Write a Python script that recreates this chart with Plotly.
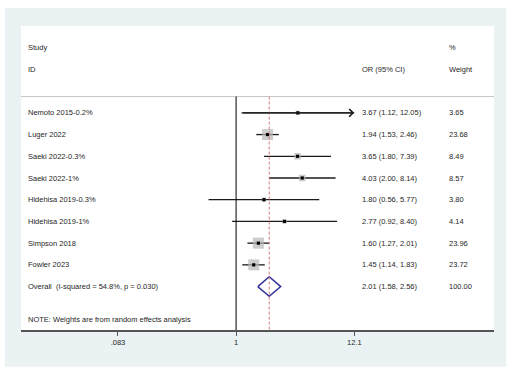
import math
import plotly.graph_objects as go

# ---- data ----
studies = ["Nemoto 2015-0.2%", "Luger 2022", "Saeki 2022-0.3%", "Saeki 2022-1%",
           "Hidehisa 2019-0.3%", "Hidehisa 2019-1%", "Simpson 2018", "Fowler 2023"]
odds = [3.67, 1.94, 3.65, 4.03, 1.80, 2.77, 1.60, 1.45]
ci_low = [1.12, 1.53, 1.80, 2.00, 0.56, 0.92, 1.27, 1.14]
ci_high = [12.05, 2.46, 7.39, 8.14, 5.77, 8.40, 2.01, 1.83]
weights = [3.65, 23.68, 8.49, 8.57, 3.80, 4.14, 23.96, 23.72]
arrow_right = [True, False, False, False, False, False, False, False]

overall_label = "Overall  (I-squared = 54.8%, p = 0.030)"
overall_or = 2.01
overall_low = 1.58
overall_high = 2.56
overall_weight = 100.00

tick_vals = [0.083, 1, 12.1]
tick_text = [".083", "1", "12.1"]
note = "NOTE: Weights are from random effects analysis"

# ---- layout constants ----
FONT = "Liberation Sans, Arial, sans-serif"
FS = 7.5
TXT = "#262626"
rows = list(range(1, len(studies) + 1))
overall_row = len(studies) + 1
sep_row = 0.25
note_row = overall_row + 1.5
y_bottom = overall_row + 2
y_top = -3

X_STUDY, X_OR, X_W = 0.0112, 0.7174, 0.9012

fig = go.Figure()

# CI lines
xs, ys = [], []
for r, lo, hi in zip(rows, ci_low, ci_high):
    xs += [lo, hi, None]
    ys += [r, r, None]
fig.add_trace(go.Scatter(x=xs, y=ys, mode="lines",
                         line=dict(color="#1a1a1a", width=1.3),
                         hoverinfo="skip", showlegend=False))

# weight boxes
fig.add_trace(go.Scatter(x=odds, y=rows, mode="markers",
                         marker=dict(symbol="square", color="#b8b8b8",
                                     size=[2.25 * math.sqrt(w) for w in weights],
                                     line=dict(width=0)),
                         hoverinfo="skip", showlegend=False))
# point estimates
fig.add_trace(go.Scatter(x=odds, y=rows, mode="markers",
                         marker=dict(symbol="square", color="#000000", size=3.2),
                         hoverinfo="skip", showlegend=False))

# overall diamond
h = 0.45
fig.add_trace(go.Scatter(
    x=[overall_low, overall_or, overall_high, overall_or, overall_low],
    y=[overall_row, overall_row - h, overall_row, overall_row + h, overall_row],
    mode="lines", line=dict(color="#33339a", width=1.5),
    hoverinfo="skip", showlegend=False))

shapes = [
    # outer light panel
    dict(type="rect", xref="paper", yref="paper", x0=-0.0338, x1=1.0258,
         y0=-0.1207, y1=1.0592, fillcolor="#eaf2f3", line=dict(width=0), layer="below"),
    # inner white plot region
    dict(type="rect", xref="paper", yref="paper", x0=0, x1=1, y0=0, y1=1,
         fillcolor="#ffffff", line=dict(width=0), layer="below"),
    # header separator
    dict(type="line", xref="paper", yref="y", x0=0, x1=1, y0=sep_row, y1=sep_row,
         line=dict(color="#c4c4c4", width=1)),
    # null line
    dict(type="line", xref="x", yref="y", x0=1, x1=1, y0=sep_row, y1=y_bottom,
         line=dict(color="#000000", width=1)),
    # overall effect line
    dict(type="line", xref="x", yref="y", x0=overall_or, x1=overall_or,
         y0=sep_row, y1=y_bottom,
         line=dict(color="#d27a7a", width=1, dash="3px,2px")),
]

ann = []
def txt(x, y, s):
    ann.append(dict(x=x, y=y, xref="paper", yref="y", text=s, showarrow=False,
                    xanchor="left", yanchor="middle",
                    font=dict(family=FONT, size=FS, color=TXT)))

txt(X_STUDY, -2, "Study")
txt(X_STUDY, -1, "ID")
txt(X_OR, -1, "OR (95% CI)")
txt(X_W, -2, "%")
txt(X_W, -1, "Weight")
for r, s, o, lo, hi, w in zip(rows, studies, odds, ci_low, ci_high, weights):
    txt(X_STUDY, r, s)
    txt(X_OR, r, f"{o:.2f} ({lo:.2f}, {hi:.2f})")
    txt(X_W, r, f"{w:.2f}")
txt(X_STUDY, overall_row, overall_label)
txt(X_OR, overall_row, f"{overall_or:.2f} ({overall_low:.2f}, {overall_high:.2f})")
txt(X_W, overall_row, f"{overall_weight:.2f}")
txt(X_STUDY, note_row, note)

# arrowheads for truncated CIs
for r, lo, hi, a in zip(rows, ci_low, ci_high, arrow_right):
    if a:
        ann.append(dict(x=math.log10(hi), y=r, xref="x", yref="y",
                        ax=math.log10(lo), ay=r, axref="x", ayref="y",
                        showarrow=True, arrowhead=4, arrowsize=1.15,
                        arrowwidth=1.3, arrowcolor="#1a1a1a", text="",
                        standoff=0, startstandoff=0))

fig.update_layout(
    width=511, height=376,
    margin=dict(l=21, r=17, t=26, b=46),
    paper_bgcolor="#ffffff", plot_bgcolor="rgba(0,0,0,0)",
    showlegend=False, hovermode=False,
    shapes=shapes, annotations=ann,
    xaxis=dict(type="log", range=[-1.968, 2.360], showgrid=False, zeroline=False,
               showline=True, linecolor="#555555", linewidth=1.5,
               ticks="outside", ticklen=4, tickwidth=1, tickcolor="#555555",
               tickvals=tick_vals, ticktext=tick_text, fixedrange=True,
               tickfont=dict(family=FONT, size=FS, color=TXT)),
    yaxis=dict(range=[y_bottom, y_top], visible=False, showgrid=False,
               zeroline=False, fixedrange=True),
)

fig.write_html("out.html", config={"displayModeBar": False, "staticPlot": True},
               post_script="document.body.style.margin='0';")
